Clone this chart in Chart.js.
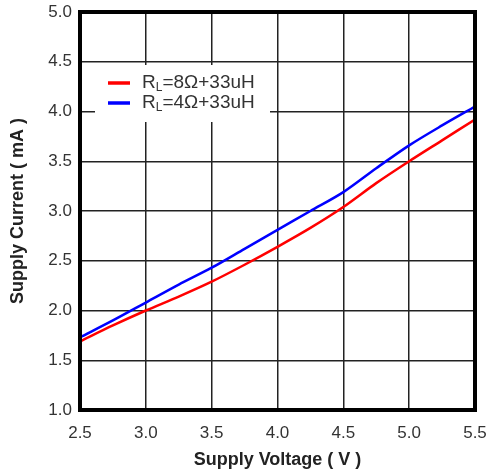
<!DOCTYPE html>
<html>
<head>
<meta charset="utf-8">
<script src="https://cdn.jsdelivr.net/npm/chart.js@4/dist/chart.umd.min.js"></script>
<style>
  html, body { margin: 0; padding: 0; background: #fff; }
  #wrap { width: 487px; height: 475px; }
</style>
</head>
<body>
<div id="wrap"><canvas id="myChart" width="487" height="475"></canvas></div>
<script>
const voltage = [2.5, 2.75, 3.0, 3.25, 3.5, 3.75, 4.0, 4.25, 4.5, 4.75, 5.0, 5.25, 5.5];
const current8ohm = [1.69, 1.85, 2.0, 2.14, 2.29, 2.46, 2.64, 2.83, 3.04, 3.28, 3.50, 3.71, 3.92];
const current4ohm = [1.73, 1.90, 2.08, 2.26, 2.43, 2.62, 2.81, 3.00, 3.19, 3.43, 3.66, 3.86, 4.05];
const legendSeries = ['8Ω+33uH', '4Ω+33uH'];

const FONT = '"Liberation Sans", Arial, sans-serif';

function toPoints(xs, ys) {
    return xs.map((x, i) => ({ x: x, y: ys[i] }));
}

// frame around plot + legend box with subscript labels
const framePlugin = {
    id: 'frame',
    afterDraw(chart) {
        const ctx = chart.ctx;
        const a = chart.chartArea;
        ctx.save();
        // legend box
        const bx = a.left + 15, by = a.top + 53;
        ctx.fillStyle = '#fff';
        ctx.fillRect(bx, by, 175, 57);
        chart.data.datasets.forEach((ds, i) => {
            const y = by + 18 + i * 20;
            ctx.strokeStyle = ds.borderColor;
            ctx.lineWidth = 3.5;
            ctx.beginPath();
            ctx.moveTo(bx + 13, y);
            ctx.lineTo(bx + 35, y);
            ctx.stroke();
            ctx.fillStyle = '#333';
            ctx.textBaseline = 'middle';
            ctx.textAlign = 'left';
            let tx = bx + 47;
            ctx.font = '19px ' + FONT;
            ctx.fillText('R', tx, y);
            tx += ctx.measureText('R').width;
            ctx.font = '12px ' + FONT;
            ctx.fillText('L', tx, y + 5);
            tx += ctx.measureText('L').width;
            ctx.font = '19px ' + FONT;
            ctx.fillText('=' + legendSeries[i], tx, y);
        });
        // thick border
        ctx.strokeStyle = '#000';
        ctx.lineWidth = 4;
        ctx.strokeRect(a.left, a.top, a.right - a.left, a.bottom - a.top);
        ctx.restore();
    }
};

const ctx1 = document.getElementById('myChart').getContext('2d');
new Chart(ctx1, {
    type: 'line',
    data: {
        datasets: [{
            label: 'RL=8Ω+33uH',
            data: toPoints(voltage, current8ohm),
            borderColor: '#ff0000',
            borderWidth: 2.5,
            pointRadius: 0,
            tension: 0.3
        },
        {
            label: 'RL=4Ω+33uH',
            data: toPoints(voltage, current4ohm),
            borderColor: '#0000ff',
            borderWidth: 2.5,
            pointRadius: 0,
            tension: 0.3
        }]
    },
    options: {
        responsive: false,
        animation: false,
        layout: { padding: { top: 0, right: 0 } },
        plugins: {
            legend: { display: false },
            tooltip: { enabled: false }
        },
        scales: {
            x: {
                type: 'linear',
                min: 2.5,
                max: 5.5,
                afterFit(s) { s.height = 65; s.paddingRight = 12; },
                ticks: {
                    stepSize: 0.5,
                    padding: 13,
                    color: '#333',
                    font: { family: FONT, size: 17 },
                    callback: v => v.toFixed(1)
                },
                grid: { color: '#222', lineWidth: 1.5, drawTicks: false },
                border: { display: false },
                title: {
                    display: true,
                    text: 'Supply Voltage ( V )',
                    color: '#222',
                    padding: { top: 4, bottom: 4 },
                    font: { family: FONT, size: 18, weight: 'bold' }
                }
            },
            y: {
                min: 1.0,
                max: 5.0,
                afterFit(s) { s.width = 80; s.paddingTop = 12; },
                ticks: {
                    stepSize: 0.5,
                    padding: 8,
                    color: '#333',
                    font: { family: FONT, size: 17 },
                    callback: v => v.toFixed(1)
                },
                grid: { color: '#222', lineWidth: 1.5, drawTicks: false },
                border: { display: false },
                title: {
                    display: true,
                    text: 'Supply Current ( mA )',
                    color: '#222',
                    padding: { top: 7, bottom: 0 },
                    font: { family: FONT, size: 18, weight: 'bold' }
                }
            }
        }
    },
    plugins: [framePlugin]
});
</script>
</body>
</html>
